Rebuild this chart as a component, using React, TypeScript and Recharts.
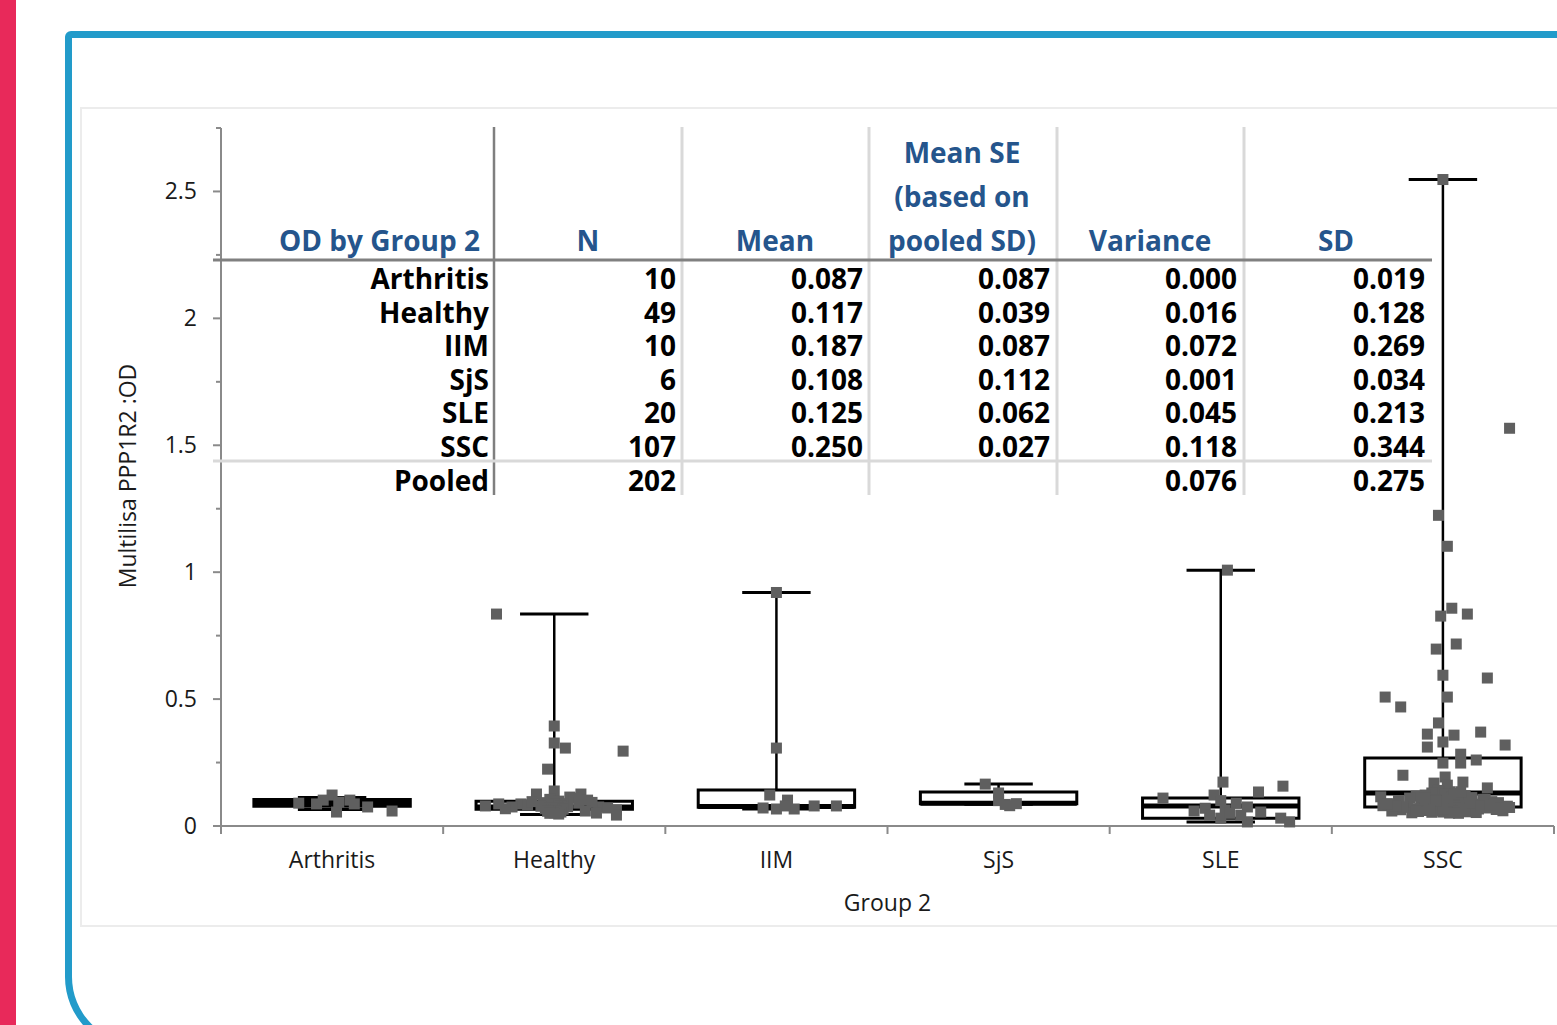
import { ComposedChart, Scatter, XAxis, YAxis, ReferenceArea, ReferenceLine } from 'recharts';

const groups = ['Arthritis', 'Healthy', 'IIM', 'SjS', 'SLE', 'SSC'];

// box plot stats
const q1 = [0.078, 0.066, 0.074, 0.088, 0.031, 0.075];
const medians = [0.09, 0.075, 0.077, 0.09, 0.079, 0.13];
const q3 = [0.104, 0.098, 0.142, 0.134, 0.11, 0.268];
const whiskerLow = [0.065, 0.045, 0.067, 0.086, 0.016, 0.048];
const whiskerHigh = [0.112, 0.835, 0.92, 0.165, 1.008, 2.547];

// individual points (value + horizontal jitter in category units)
const arthritisValues = [0.122, 0.102, 0.094, 0.087, 0.055, 0.102, 0.075, 0.059, 0.09, 0.087];
const arthritisJitter = [0, -0.04, 0.03, -0.07, 0.02, 0.08, 0.16, 0.27, -0.15, 0.1];

const healthyValues = [
  0.835, 0.394, 0.327, 0.307, 0.224, 0.295, 0.138, 0.126, 0.114, 0.126,
  0.087, 0.087, 0.075, 0.075, 0.063, 0.051, 0.043, 0.105, 0.098, 0.092,
  0.088, 0.085, 0.082, 0.08, 0.078, 0.076, 0.074, 0.072, 0.07, 0.068,
  0.066, 0.064, 0.062, 0.06, 0.058, 0.055, 0.052, 0.05, 0.047, 0.11,
  0.102, 0.09, 0.083, 0.079, 0.071, 0.068, 0.093, 0.059, 0.096,
];
const healthyJitter = [
  -0.26, 0, 0, 0.05, -0.03, 0.31, 0, -0.08, 0.07, 0.12,
  -0.25, -0.15, -0.19, 0.2, 0.28, 0.19, 0.28, -0.02, 0.02, -0.05,
  0.04, 0, -0.03, 0.03, -0.06, 0.06, 0, -0.02, 0.02, -0.04,
  0.04, 0, -0.01, 0.01, -0.03, 0.03, 0, -0.02, 0.02, 0.09,
  0.15, 0.11, -0.12, -0.31, 0.24, -0.22, 0.17, 0.14, -0.1,
];

const iimValues = [0.92, 0.307, 0.122, 0.102, 0.071, 0.067, 0.067, 0.079, 0.079, 0.079];
const iimJitter = [0, 0, -0.03, 0.05, -0.06, 0, 0.08, 0.17, 0.27, 0.04];

const sjsValues = [0.165, 0.13, 0.1, 0.085, 0.08, 0.088];
const sjsJitter = [-0.06, 0, 0, 0.03, 0.05, 0.08];

const sleValues = [
  1.008, 0.173, 0.157, 0.134, 0.11, 0.122, 0.1, 0.09, 0.075, 0.07,
  0.063, 0.043, 0.031, 0.016, 0.031, 0.016, 0.059, 0.05, 0.055, 0.043,
];
const sleJitter = [
  0.03, 0.01, 0.28, 0.17, -0.26, -0.03, 0, 0.07, 0.12, -0.07,
  0.02, -0.05, 0, 0.12, 0.27, 0.31, -0.12, 0.04, 0.18, 0.09,
];

const sscValues = [
  2.547, 1.567, 1.224, 1.102, 0.858, 0.827, 0.835, 0.717, 0.697, 0.594,
  0.583, 0.508, 0.469, 0.508, 0.406, 0.362, 0.358, 0.37, 0.311, 0.331,
  0.319, 0.283, 0.248, 0.26, 0.248, 0.2, 0.15, 0.193, 0.161, 0.173,
  0.169,
  0.14, 0.135, 0.13, 0.128, 0.125, 0.122, 0.12, 0.118, 0.115, 0.112,
  0.11, 0.108, 0.105, 0.103, 0.1, 0.098, 0.096, 0.094, 0.092, 0.09,
  0.088, 0.086, 0.085, 0.083, 0.082, 0.08, 0.079, 0.078, 0.076, 0.075,
  0.074, 0.072, 0.071, 0.07, 0.069, 0.068, 0.067, 0.066, 0.065, 0.064,
  0.063, 0.062, 0.061, 0.06, 0.059, 0.058, 0.057, 0.056, 0.055, 0.054,
  0.053, 0.052, 0.051, 0.05, 0.115, 0.105, 0.095, 0.085, 0.075, 0.065,
  0.125, 0.11, 0.09, 0.08, 0.07, 0.06, 0.1, 0.088, 0.078, 0.068,
  0.058, 0.135, 0.097, 0.083, 0.073, 0.063,
];
const sscJitter = [
  0, 0.3, -0.02, 0.02, 0.04, -0.01, 0.11, 0.06, -0.03, 0,
  0.2, -0.26, -0.19, 0.02, -0.02, -0.07, 0.05, 0.17, -0.07, 0,
  0.28, 0.08, 0.08, 0.15, 0, -0.18, 0.2, 0.01, 0.02, 0.09,
  -0.04,
  -0.02, 0.03, -0.05, 0.06, 0.01, -0.08, 0.1, -0.12, 0.04, 0.13,
  -0.15, 0.02, 0.18, -0.03, -0.2, 0.07, 0.22, -0.06, 0.25, -0.1,
  0, -0.24, 0.14, -0.01, 0.09, -0.27, 0.05, 0.29, -0.04, 0.12,
  -0.16, 0.02, 0.2, -0.09, 0.06, -0.13, 0.16, -0.02, 0.24, -0.19,
  0.01, 0.08, -0.07, 0.27, -0.23, 0.04, -0.11, 0.11, 0, -0.05,
  0.15, -0.14, 0.03, 0.07, -0.28, 0.19, -0.01, 0.23, -0.18, 0.1,
  0.05, -0.08, 0.13, -0.21, 0.26, -0.04, 0.02, -0.25, 0.17, 0,
  -0.12, 0.08, -0.03, 0.21, 0.3, -0.06,
];

const groupValues = [arthritisValues, healthyValues, iimValues, sjsValues, sleValues, sscValues];
const groupJitter = [arthritisJitter, healthyJitter, iimJitter, sjsJitter, sleJitter, sscJitter];

const yTicks = [0, 0.25, 0.5, 0.75, 1, 1.25, 1.5, 1.75, 2, 2.25, 2.5, 2.75];
const xTicks = [-0.5, 0, 0.5, 1, 1.5, 2, 2.5, 3, 3.5, 4, 4.5, 5, 5.5];

// summary table drawn over the plot
const tableHeaders = ['N', 'Mean', 'Mean SE|(based on|pooled SD)', 'Variance', 'SD'];
const tableGroups = ['Arthritis', 'Healthy', 'IIM', 'SjS', 'SLE', 'SSC', 'Pooled'];
const tableN = ['10', '49', '10', '6', '20', '107', '202'];
const tableMean = ['0.087', '0.117', '0.187', '0.108', '0.125', '0.250', ''];
const tableMeanSE = ['0.087', '0.039', '0.087', '0.112', '0.062', '0.027', ''];
const tableVariance = ['0.000', '0.016', '0.072', '0.001', '0.045', '0.118', '0.076'];
const tableSD = ['0.019', '0.128', '0.269', '0.034', '0.213', '0.344', '0.275'];

const points = groupValues.flatMap((vals, i) =>
  vals.map((v, j) => ({ x: i + groupJitter[i][j], y: v }))
);

const BOX_HALF = 0.352;
const CAP_HALF = 0.154;
const FONT = '"Open Sans", "Noto Sans", sans-serif';
const AXIS_GRAY = '#8a8a8a';
const HEAD_BLUE = '#25558c';

const XTick = (props: any) => {
  const { x, y, payload } = props;
  const v = payload.value;
  if (Number.isInteger(v)) {
    return (
      <text x={x} y={y + 42} textAnchor="middle" fontSize={23} fontFamily={FONT} fill="#1a1a1a">
        {groups[v]}
      </text>
    );
  }
  return <line x1={x} x2={x} y1={y} y2={y + 8} stroke={AXIS_GRAY} strokeWidth={2} />;
};

const YTick = (props: any) => {
  const { x, y, payload } = props;
  const v = payload.value;
  const major = Math.abs(v * 2 - Math.round(v * 2)) < 1e-6;
  return (
    <g>
      <line x1={x - (major ? 8 : 5)} x2={x} y1={y} y2={y} stroke={AXIS_GRAY} strokeWidth={2} />
      {major && (
        <text x={x - 24} y={y + 8} textAnchor="end" fontSize={23} fontFamily={FONT} fill="#1a1a1a">
          {v}
        </text>
      )}
    </g>
  );
};

const Square = (props: any) => {
  const { cx, cy } = props;
  return <rect x={cx - 5.5} y={cy - 5.5} width={11} height={11} fill="#5f5f5f" />;
};

const SummaryTable = () => {
  const colLines = [682, 869, 1057, 1244];
  const valueCols = [tableN, tableMean, tableMeanSE, tableVariance, tableSD];
  const valueRight = [676, 863, 1050, 1237, 1425];
  const headerCenter = [588, 775, 962, 1150, 1336];
  const rowBase = (i: number) => 289 + i * 33.6;
  const bold = { fontFamily: FONT, fontWeight: 700, fontSize: 28 };
  return (
    <svg
      width={1557}
      height={1025}
      style={{ position: 'absolute', left: 0, top: 0, pointerEvents: 'none' }}
    >
      {colLines.map((cx) => (
        <line key={cx} x1={cx} x2={cx} y1={127} y2={495} stroke="#d9d9d9" strokeWidth={3} />
      ))}
      <line x1={494} x2={494} y1={127} y2={495} stroke="#7f7f7f" strokeWidth={2.5} />
      <line x1={213} x2={1432} y1={260} y2={260} stroke="#808080" strokeWidth={3} />
      <line x1={213} x2={1432} y1={461} y2={461} stroke="#d9d9d9" strokeWidth={3} />

      <text x={480} y={251} textAnchor="end" fill={HEAD_BLUE} {...bold}>
        OD by Group 2
      </text>
      {tableHeaders.map((h, c) => {
        const lines = h.split('|');
        return lines.map((ln, k) => (
          <text
            key={c + '-' + k}
            x={headerCenter[c]}
            y={251 - (lines.length - 1 - k) * 44}
            textAnchor="middle"
            fill={HEAD_BLUE}
            {...bold}
          >
            {ln}
          </text>
        ));
      })}

      {tableGroups.map((g, r) => (
        <text key={g} x={489} y={rowBase(r)} textAnchor="end" fill="#000" {...bold}>
          {g}
        </text>
      ))}
      {valueCols.map((col, c) =>
        col.map((val, r) => (
          <text key={c + '-' + r} x={valueRight[c]} y={rowBase(r)} textAnchor="end" fill="#000" {...bold}>
            {val}
          </text>
        ))
      )}
    </svg>
  );
};

export default function App() {
  return (
    <div
      style={{
        position: 'absolute',
        left: 0,
        top: 0,
        width: 1557,
        height: 1025,
        overflow: 'hidden',
        background: '#fff',
        fontFamily: FONT,
      }}
    >
      <div style={{ position: 'absolute', left: 0, top: 0, width: 16, height: 1025, background: '#e8295a' }} />
      <div
        style={{
          position: 'absolute',
          left: 65,
          top: 31,
          width: 1600,
          height: 1019,
          boxSizing: 'border-box',
          border: '7px solid #229bca',
          borderTopLeftRadius: 6,
          borderBottomLeftRadius: 73,
        }}
      />
      <div
        style={{
          position: 'absolute',
          left: 80,
          top: 107,
          width: 1600,
          height: 820,
          boxSizing: 'border-box',
          border: '2px solid #ececec',
          background: '#fff',
        }}
      />
      <div style={{ position: 'absolute', left: 80, top: 107 }}>
        <ComposedChart width={1477} height={818} margin={{ top: 21, right: 3, bottom: 0, left: 0 }}>
          <XAxis
            type="number"
            dataKey="x"
            domain={[-0.5, 5.5]}
            ticks={xTicks}
            interval={0}
            tickSize={0}
            tickMargin={0}
            tick={<XTick />}
            height={99}
            axisLine={{ stroke: AXIS_GRAY, strokeWidth: 2 }}
            label={{
              value: 'Group 2',
              position: 'insideBottom',
              offset: 14,
              fontSize: 23,
              fontFamily: FONT,
              fill: '#1a1a1a',
            }}
          />
          <YAxis
            type="number"
            dataKey="y"
            domain={[0, 2.75]}
            ticks={yTicks}
            interval={0}
            tickSize={0}
            tickMargin={0}
            tick={<YTick />}
            width={141}
            axisLine={{ stroke: AXIS_GRAY, strokeWidth: 2 }}
          />
          {groups.map((g, i) => (
            <ReferenceArea
              key={'box-' + g}
              x1={i - BOX_HALF}
              x2={i + BOX_HALF}
              y1={q1[i]}
              y2={q3[i]}
              fill="#fff"
              fillOpacity={1}
              stroke="#000"
              strokeWidth={3}
            />
          ))}
          {groups.map((g, i) => (
            <ReferenceLine
              key={'wh-' + g}
              segment={[{ x: i, y: q3[i] }, { x: i, y: whiskerHigh[i] }]}
              stroke="#000"
              strokeWidth={2.5}
            />
          ))}
          {groups.map((g, i) => (
            <ReferenceLine
              key={'wl-' + g}
              segment={[{ x: i, y: q1[i] }, { x: i, y: whiskerLow[i] }]}
              stroke="#000"
              strokeWidth={2.5}
            />
          ))}
          {groups.map((g, i) => (
            <ReferenceLine
              key={'ch-' + g}
              segment={[{ x: i - CAP_HALF, y: whiskerHigh[i] }, { x: i + CAP_HALF, y: whiskerHigh[i] }]}
              stroke="#000"
              strokeWidth={3}
            />
          ))}
          {groups.map((g, i) => (
            <ReferenceLine
              key={'cl-' + g}
              segment={[{ x: i - CAP_HALF, y: whiskerLow[i] }, { x: i + CAP_HALF, y: whiskerLow[i] }]}
              stroke="#000"
              strokeWidth={3}
            />
          ))}
          {groups.map((g, i) => (
            <ReferenceLine
              key={'md-' + g}
              segment={[{ x: i - BOX_HALF, y: medians[i] }, { x: i + BOX_HALF, y: medians[i] }]}
              stroke="#000"
              strokeWidth={5}
            />
          ))}
          <Scatter data={points} dataKey="y" shape={<Square />} isAnimationActive={false} />
        </ComposedChart>
      </div>
      <div
        style={{
          position: 'absolute',
          left: 127 - 200,
          top: 476 - 16,
          width: 400,
          height: 32,
          lineHeight: '32px',
          textAlign: 'center',
          transform: 'rotate(-90deg)',
          fontSize: 23,
          fontFamily: FONT,
          color: '#1a1a1a',
        }}
      >
        Multilisa PPP1R2 :OD
      </div>
      <SummaryTable />
    </div>
  );
}
